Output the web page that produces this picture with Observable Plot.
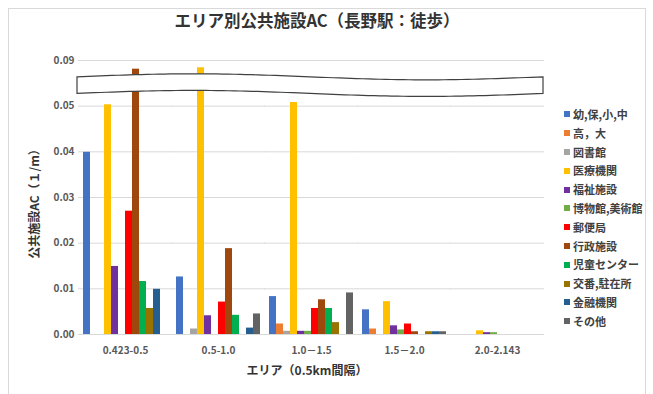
<!DOCTYPE html>
<html><head><meta charset="utf-8">
<script src="https://cdn.jsdelivr.net/npm/d3@7"></script>
<script src="https://cdn.jsdelivr.net/npm/@observablehq/plot@0.6"></script>
<style>
body{margin:0;background:#fff;}
#wrap{position:relative;width:653px;height:394px;overflow:hidden;font-family:"Noto Sans CJK JP","Noto Sans",sans-serif;background:#fff;}
#frame{position:absolute;left:8px;top:8px;width:638px;height:420px;border:1px solid #d9d9d9;box-sizing:border-box;}
#title{position:absolute;left:0;top:10px;width:634px;text-align:center;font-size:16.5px;font-weight:bold;color:#333;line-height:21px;}
#ytitle{position:absolute;left:33px;top:201px;transform:translate(-50%,-50%) rotate(-90deg);font-size:12px;font-weight:bold;color:#333;white-space:nowrap;}
#xtitle{position:absolute;left:307px;top:369px;transform:translate(-50%,-50%);font-size:12px;font-weight:bold;color:#333;white-space:nowrap;}
#legend{position:absolute;left:564px;top:105px;font-size:11px;font-weight:bold;color:#404040;}
#legend .it{height:18.8px;line-height:18.8px;display:flex;align-items:center;white-space:nowrap;}
#legend .sw{width:6px;height:6px;margin-right:3px;flex:none;}
#chart{position:absolute;left:0;top:0;}
</style></head>
<body>
<div id="wrap">
  <div id="frame"></div>
  <div id="chart"></div>
  <div id="title"></div>
  <div id="ytitle"></div>
  <div id="xtitle"></div>
  <div id="legend"></div>
</div>
<script>
const titleText = "エリア別公共施設AC（長野駅：徒歩）";
const yTitle = "公共施設AC（１/m）";
const xTitle = "エリア（0.5km間隔）";

const areas = ["0.423-0.5", "0.5-1.0", "1.0－1.5", "1.5－2.0", "2.0-2.143"];
const series = ["幼,保,小,中", "高，大", "図書館", "医療機関", "福祉施設", "博物館,美術館", "郵便局", "行政施設", "児童センター", "交番,駐在所", "金融機関", "その他"];
const colors = ["#4472C4", "#ED7D31", "#A5A5A5", "#FFC000", "#7030A0", "#70AD47", "#FF0000", "#9E480E", "#00B050", "#997300", "#255E91", "#636363"];

// values per series, one per area
const v_youho    = [0.0399, 0.0126, 0.0083, 0.0054, 0];
const v_koudai   = [0,      0,      0.0023, 0.0012, 0];
const v_tosho    = [0,      0.0012, 0.0007, 0,      0];
const v_iryou    = [0.0503, 0.0884, 0.0508, 0.0072, 0.0008];
const v_fukushi  = [0.0149, 0.0041, 0.0007, 0.0019, 0.0004];
const v_hakubutu = [0,      0,      0.0007, 0.0010, 0.0004];
const v_yubin    = [0.0270, 0.0071, 0.0057, 0.0023, 0];
const v_gyosei   = [0.0881, 0.0188, 0.0076, 0.0006, 0];
const v_jido     = [0.0116, 0.0042, 0.0057, 0,      0];
const v_koban    = [0.0057, 0,      0.0026, 0.0006, 0];
const v_kinyu    = [0.0099, 0.0014, 0,      0.0006, 0];
const v_sonota   = [0,      0.0045, 0.0091, 0.0006, 0];
const allValues = [v_youho, v_koudai, v_tosho, v_iryou, v_fukushi, v_hakubutu, v_yubin, v_gyosei, v_jido, v_koban, v_kinyu, v_sonota];

const yTickValues = [0, 0.01, 0.02, 0.03, 0.04, 0.05, 0.09];
const yTickLabels = ["0.00", "0.01", "0.02", "0.03", "0.04", "0.05", "0.09"];

// broken axis: values above the break are shifted down
const breakShift = 0.03;
const breakFrom = 0.08;
const disp = v => v > breakFrom ? v - breakShift : v;

const rows = [];
series.forEach((s, i) => areas.forEach((a, j) => rows.push({area: a, series: s, value: allValues[i][j], shown: disp(allValues[i][j])})));

const tickPos = yTickValues.map(disp);
const tickLbl = new Map(tickPos.map((p, i) => [p, yTickLabels[i]]));

const chart = Plot.plot({
  width: 653, height: 394,
  marginTop: 60, marginBottom: 60, marginLeft: 76, marginRight: 108,
  style: {fontFamily: '"Noto Sans CJK JP","Noto Sans",sans-serif', fontSize: "10px", fontWeight: "bold", color: "#595959", background: "transparent"},
  fx: {domain: areas, paddingInner: 0.1, paddingOuter: 0.05, label: null, tickSize: 0, tickPadding: 12},
  x: {domain: series, paddingInner: 0.06, paddingOuter: 0, axis: null},
  y: {domain: [0, 0.06], ticks: tickPos, tickFormat: d => tickLbl.get(d), tickSize: 0, tickPadding: 9, label: null},
  color: {domain: series, range: colors},
  marks: [
    Plot.ruleY(tickPos, {stroke: "#d9d9d9", strokeWidth: 1, insetLeft: -5, insetRight: -5}),
    Plot.barY(rows, {fx: "area", x: "series", y: "shown", fill: "series", filter: d => d.value > 0})
  ]
});
document.getElementById("chart").appendChild(chart);

// break symbol across the plot area
(function () {
  const ys = chart.scale("y");
  const yc = ys.apply(0.0545);
  const half = 8.3;
  const x0 = 77, x1 = 543;
  const n = 80;
  const upper = d3.range(n + 1).map(k => { const t = k / n; return [x0 + t * (x1 - x0), yc - half - 3 * Math.sin(2 * Math.PI * t)]; });
  const lower = upper.map(([x, y]) => [x, y + 2 * half]).reverse();
  const pathD = "M" + upper.map(p => p.join(",")).join("L") + "L" + lower.map(p => p.join(",")).join("L") + "Z";
  d3.select(chart).append("path").attr("d", pathD).attr("fill", "#fff").attr("stroke", "#404040").attr("stroke-width", 1.2);
})();

document.getElementById("title").textContent = titleText;
document.getElementById("ytitle").textContent = yTitle;
document.getElementById("xtitle").textContent = xTitle;
const lg = document.getElementById("legend");
series.forEach((s, i) => {
  const it = document.createElement("div"); it.className = "it";
  const sw = document.createElement("span"); sw.className = "sw"; sw.style.background = colors[i];
  const tx = document.createElement("span"); tx.textContent = s;
  it.appendChild(sw); it.appendChild(tx); lg.appendChild(it);
});
</script>
</body></html>
